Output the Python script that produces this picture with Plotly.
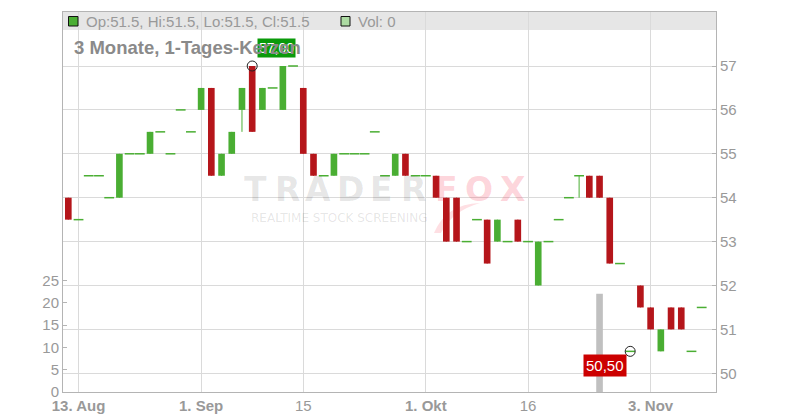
import plotly.graph_objects as go
import pandas as pd

# ---------------- data ----------------
dates = [d.strftime("%Y-%m-%d") for d in pd.bdate_range("2024-08-12", "2024-11-08")
         if d.strftime("%Y-%m-%d") not in ("2024-08-15", "2024-10-03")]

open_ = [54, 53.5, 54.5, 54.5, 54, 54, 55, 55, 55, 55.5, 55, 56, 55.5, 56, 56.5, 54.5, 55, 56, 57, 56,
         56.5, 56, 57, 56.5, 55, 54.5, 54.5, 55, 55, 55, 55.5, 54.5, 54.5, 55, 54.5, 54.5, 54.5, 54, 54, 53,
         53.5, 53.5, 53, 53, 53.5, 53, 52, 53, 53.5, 54, 54.5, 54.5, 54.5, 54, 52.5, 50.5, 52, 51.5, 50.5, 51.5,
         51.5, 50.5, 51.5]
high = [54, 53.5, 54.5, 54.5, 54, 55, 55, 55, 55.5, 55.5, 55, 56, 55.5, 56.5, 56.5, 55, 55.5, 56.5, 57, 56.5,
        56.5, 57, 57, 56.5, 55, 54.5, 55, 55, 55, 55, 55.5, 54.5, 55, 55, 54.5, 54.5, 54.5, 54, 54, 53,
        53.5, 53.5, 53.5, 53, 53.5, 53, 53, 53, 53.5, 54, 54.5, 54.5, 54.5, 54, 52.5, 50.5, 52, 51.5, 51, 51.5,
        51.5, 50.5, 51.5]
low = [53.5, 53.5, 54.5, 54.5, 54, 54, 55, 55, 55, 55.5, 55, 56, 55.5, 56, 54.5, 54.5, 55, 55.5, 55.5, 56,
       56.5, 56, 57, 55, 54.5, 54.5, 54.5, 55, 55, 55, 55.5, 54.5, 54.5, 54.5, 54.5, 54.5, 54, 53, 53, 53,
       53.5, 52.5, 53, 53, 53, 53, 52, 53, 53.5, 54, 54, 54, 54, 52.5, 52.5, 50.5, 51.5, 51, 50.5, 51,
       51, 50.5, 51.5]
close = [53.5, 53.5, 54.5, 54.5, 54, 55, 55, 55, 55.5, 55.5, 55, 56, 55.5, 56.5, 54.5, 55, 55.5, 56.5, 55.5, 56.5,
         56.5, 57, 57, 55, 54.5, 54.5, 55, 55, 55, 55, 55.5, 54.5, 55, 54.5, 54.5, 54.5, 54, 53, 53, 53,
         53.5, 52.5, 53.5, 53, 53, 53, 53, 53, 53.5, 54, 54.5, 54, 54, 52.5, 52.5, 50.5, 51.5, 51, 51, 51,
         51, 50.5, 51.5]
volume = [0, 0, 0, 0, 0, 0, 0, 0, 0, 0, 0, 0, 0, 0, 0, 0, 0, 0, 0, 0,
          0, 0, 0, 0, 0, 0, 0, 0, 0, 0, 0, 0, 0, 0, 0, 0, 0, 0, 0, 0,
          0, 0, 0, 0, 0, 0, 0, 0, 0, 0, 0, 0, 22, 0, 0, 0, 0, 0, 0, 0,
          0, 0, 0]

tick_dates = ["2024-08-13", "2024-08-30", "2024-09-13", "2024-10-01", "2024-10-16", "2024-11-01"]
tick_text = ["<b>13. Aug</b>", "<b>1. Sep</b>", "15", "<b>1. Okt</b>", "16", "<b>3. Nov</b>"]
price_ticks = [50, 51, 52, 53, 54, 55, 56, 57]
vol_ticks = [0, 5, 10, 15, 20, 25]

title_text = "3 Monate, 1-Tages-Kerzen"
ohlc_text = "Op:51.5, Hi:51.5, Lo:51.5, Cl:51.5"
vol_text = "Vol: 0"

# ---------------- style ----------------
GREEN = "#4aae33"
RED = "#b5161b"
GRID = "#dadada"
AXIS = "#b4b4b4"
TXT = "#999999"
FONT = "Liberation Sans"

L, R, T, B = 63, 84, 12, 28
W, H = 800, 420
PW, PH = W - L - R, H - T - B


def px(x):
    return (x - L) / PW


def py(y):
    return (H - B - y) / PH


fig = go.Figure()

# volume (base axis, drawn first -> behind)
fig.add_trace(go.Bar(x=dates, y=volume, yaxis="y", width=0.65,
                     marker=dict(color="#c0c0c0", line=dict(width=0)), hoverinfo="skip"))

# wicks
for col, cond in ((GREEN, lambda o, c: c >= o), (RED, lambda o, c: c < o)):
    wx, wy = [], []
    for d, o, h, l, c in zip(dates, open_, high, low, close):
        if cond(o, c) and h > l:
            wx += [d, d, None]
            wy += [l, h, None]
    fig.add_trace(go.Scatter(x=wx, y=wy, yaxis="y2", mode="lines",
                             line=dict(color=col, width=1), hoverinfo="skip"))

# bodies
fig.add_trace(go.Bar(
    x=dates,
    base=[min(o, c) for o, c in zip(open_, close)],
    y=[abs(c - o) for o, c in zip(open_, close)],
    yaxis="y2", width=0.65,
    marker=dict(color=[GREEN if c >= o else RED for o, c in zip(open_, close)], line=dict(width=0)),
    hoverinfo="skip"))

# flat candles (open == close)
fx = [d for d, o, c in zip(dates, open_, close) if o == c]
fy = [c for o, c in zip(open_, close) if o == c]
fig.add_trace(go.Scatter(x=fx, y=fy, yaxis="y2", mode="markers",
                         marker=dict(symbol="line-ew", size=7, color=GREEN,
                                     line=dict(color=GREEN, width=1.5)),
                         hoverinfo="skip"))

# high / low markers
imax = high.index(max(high))
imin = low.index(min(low))
fig.add_trace(go.Scatter(x=[dates[imax], dates[imin]], y=[high[imax], low[imin]], yaxis="y2",
                         mode="markers",
                         marker=dict(symbol="circle-open", size=10, color="#222222",
                                     line=dict(width=1, color="#222222")),
                         hoverinfo="skip"))

annotations = []

# watermark
wm_letters = list("TRADERFOX")
wm_x = [256, 287, 318, 350, 381, 413, 446, 479, 512]
for i, (ch, xc) in enumerate(zip(wm_letters, wm_x)):
    col = "rgba(0,0,0,0.10)" if i < 6 else "rgba(245,40,70,0.20)"
    annotations.append(dict(x=px(xc), y=py(189), xref="paper", yref="paper",
                            text="<b>" + ch + "</b>", showarrow=False,
                            xanchor="center", yanchor="middle",
                            font=dict(family="DejaVu Sans", size=33, color=col)))
annotations.append(dict(x=px(339), y=py(218), xref="paper", yref="paper",
                        text="REALTIME STOCK SCREENING", showarrow=False,
                        xanchor="center", yanchor="middle",
                        font=dict(family="DejaVu Sans", size=12, color="rgba(0,0,0,0.11)")))

# legend bar texts
annotations.append(dict(x=px(84), y=py(21.5), xref="paper", yref="paper", text=ohlc_text,
                        showarrow=False, xanchor="left", yanchor="middle",
                        font=dict(family=FONT, size=15, color=TXT)))
annotations.append(dict(x=px(356), y=py(21.5), xref="paper", yref="paper", text=vol_text,
                        showarrow=False, xanchor="left", yanchor="middle",
                        font=dict(family=FONT, size=15, color=TXT)))

# high / low labels
annotations.append(dict(x=dates[imax], y=high[imax], xref="x", yref="y2",
                        text=f"{high[imax]:.2f}".replace(".", ","), showarrow=False,
                        xshift=24.5, yshift=18, bgcolor="#0a9a0a", borderpad=1,
                        font=dict(family=FONT, size=14, color="white")))
annotations.append(dict(x=dates[imin], y=low[imin], xref="x", yref="y2",
                        text=f"{low[imin]:.2f}".replace(".", ","), showarrow=False,
                        xshift=-25.5, yshift=-13.7, bgcolor="#cc0000", borderpad=2,
                        font=dict(family=FONT, size=15, color="white")))

# title (on top of the label)
annotations.append(dict(x=px(72), y=py(47.5), xref="paper", yref="paper",
                        text="<b>" + title_text + "</b>", showarrow=False,
                        xanchor="left", yanchor="middle",
                        font=dict(family=FONT, size=18.5, color="#8a8a8a")))


def rect(x0, y0, x1, y1, fill, line=None, layer="above"):
    return dict(type="rect", xref="paper", yref="paper", x0=px(x0), x1=px(x1), y0=py(y1), y1=py(y0),
                fillcolor=fill, line=dict(width=1 if line else 0, color=line or fill), layer=layer)


swoosh = [(434, 233), (446, 204), (480, 203), (452, 211), (441, 233)]
path = (f"M {px(swoosh[0][0])},{py(swoosh[0][1])} "
        f"Q {px(swoosh[1][0])},{py(swoosh[1][1])} {px(swoosh[2][0])},{py(swoosh[2][1])} "
        f"Q {px(swoosh[3][0])},{py(swoosh[3][1])} {px(swoosh[4][0])},{py(swoosh[4][1])} Z")

shapes = [
    dict(type="rect", xref="paper", yref="paper", x0=0, x1=1, y0=py(30), y1=1,
         fillcolor="#e6e6e6", line=dict(width=0), layer="below"),
    dict(type="path", xref="paper", yref="paper", path=path,
         fillcolor="rgba(245,40,70,0.15)", line=dict(width=0), layer="below"),
    rect(68.5, 16.5, 78, 26, GREEN, "#111111"),
    rect(341, 16.5, 350, 26, "#addba3", "#111111"),
]

fig.update_layout(
    width=W, height=H,
    margin=dict(l=L, r=R, t=T, b=B, pad=0, autoexpand=False),
    plot_bgcolor="white", paper_bgcolor="white",
    showlegend=False, barmode="overlay",
    font=dict(family=FONT, size=15, color=TXT),
    xaxis=dict(type="category", range=[-0.52, 63.4], tickvals=tick_dates, ticktext=tick_text,
               showgrid=True, gridcolor=GRID, gridwidth=1, showline=True, linecolor=AXIS,
               mirror=True, ticks="", automargin=False,
               tickfont=dict(family=FONT, size=15, color=TXT)),
    yaxis=dict(side="left", range=[0, 85.1], tickvals=vol_ticks, showgrid=False, zeroline=False,
               showline=True, linecolor=AXIS, ticks="inside", ticklen=4, tickcolor=AXIS,
               automargin=False, tickfont=dict(family=FONT, size=15, color=TXT)),
    yaxis2=dict(side="right", overlaying="y", range=[49.574, 58.23], tickvals=price_ticks,
                showgrid=True, gridcolor=GRID, zeroline=False, showline=True, linecolor=AXIS,
                ticks="inside", ticklen=4, tickcolor=AXIS, automargin=False,
                tickfont=dict(family=FONT, size=15, color=TXT)),
    annotations=annotations,
    shapes=shapes,
)

fig.write_html("out.html", config={"displayModeBar": False},
               post_script="document.body.style.margin='0px';"
                           "document.body.style.overflow='hidden';")
